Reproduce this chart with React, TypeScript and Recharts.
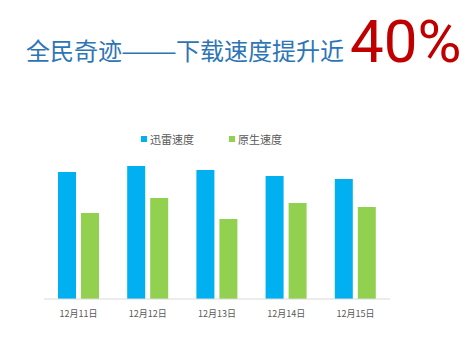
import React from 'react';
import { BarChart, Bar, XAxis, YAxis } from 'recharts';

const days = ['12月11日', '12月12日', '12月13日', '12月14日', '12月15日'];
const xunleiSpeed = [127, 133, 129, 123, 120];
const nativeSpeed = [86, 101, 80, 96, 92];

const series = [
  { key: 'xunlei', name: '迅雷速度', color: '#00b0f0' },
  { key: 'native', name: '原生速度', color: '#92d050' },
];

const chartData = days.map((day, i) => ({
  day,
  xunlei: xunleiSpeed[i],
  native: nativeSpeed[i],
}));

const cjk = '"Noto Sans CJK SC", sans-serif';

const App: React.FC = () => {
  return (
    <div style={{ position: 'absolute', left: 0, top: 0, width: 472, height: 337, background: '#fff' }}>
      <svg width={472} height={80} style={{ position: 'absolute', left: 0, top: 0 }}>
        <text y={60} fontSize={24} fill="#2e75b6" fontFamily={cjk}>
          <tspan x={26}>全民奇迹</tspan>
          <tspan x={121} textLength={56} lengthAdjust="spacingAndGlyphs">——</tspan>
          <tspan x={176}>下载速度提升近</tspan>
        </text>
        <text x={350} y={62} fontSize={60} fill="#c00000" fontFamily="Roboto, sans-serif">
          40%
        </text>
      </svg>
      <div style={{ position: 'absolute', left: 0, top: 0 }}>
        <BarChart
          width={472}
          height={337}
          data={chartData}
          margin={{ top: 159, right: 82, left: 44, bottom: 8 }}
          barGap={5}
          barSize={18}
        >
          <XAxis
            dataKey="day"
            height={30}
            axisLine={{ stroke: '#d9d9d9' }}
            tickLine={false}
            tick={{ fontSize: 9, fill: '#595959', fontFamily: cjk }}
            tickMargin={6}
          />
          <YAxis hide domain={[0, 140]} />
          {series.map((s) => (
            <Bar key={s.key} dataKey={s.key} name={s.name} fill={s.color} isAnimationActive={false} />
          ))}
        </BarChart>
      </div>
      <div
        style={{
          position: 'absolute',
          left: 141,
          top: 131,
          display: 'flex',
          fontFamily: cjk,
          fontSize: 11,
          lineHeight: '16px',
          color: '#595959',
        }}
      >
        {series.map((s) => (
          <div key={s.key} style={{ display: 'flex', alignItems: 'center', marginRight: 35 }}>
            <span style={{ display: 'inline-block', width: 6, height: 6, background: s.color, marginRight: 3 }} />
            <span>{s.name}</span>
          </div>
        ))}
      </div>
    </div>
  );
};

export default App;
